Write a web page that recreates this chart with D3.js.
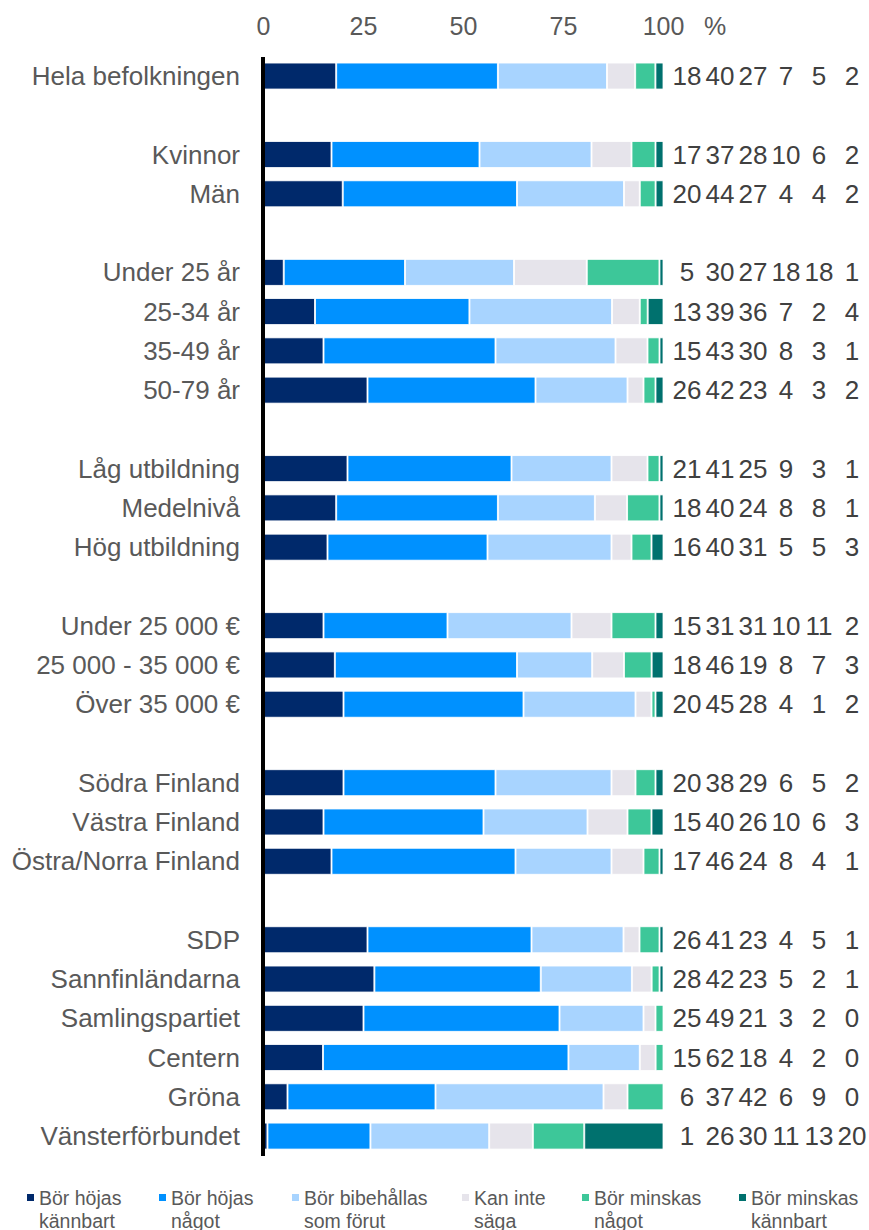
<!DOCTYPE html>
<html><head><meta charset="utf-8">
<script src="https://cdn.jsdelivr.net/npm/d3@7"></script>
<style>body{margin:0;background:#fff;font-family:"Liberation Sans",Arial,sans-serif;}</style>
</head><body><svg id="c" width="869" height="1230"></svg>
<script>
const categories = ["Hela befolkningen","","Kvinnor","Män","","Under 25 år","25-34 år","35-49 år","50-79 år","","Låg utbildning","Medelnivå","Hög utbildning","","Under 25 000 €","25 000 - 35 000 €","Över 35 000 €","","Södra Finland","Västra Finland","Östra/Norra Finland","","SDP","Sannfinländarna","Samlingspartiet","Centern","Gröna","Vänsterförbundet"];
const seriesNames = ["Bör höjas kännbart","Bör höjas något","Bör bibehållas som förut","Kan inte säga","Bör minskas något","Bör minskas kännbart"];
const legendLines = [["Bör höjas","kännbart"],["Bör höjas","något"],["Bör bibehållas","som förut"],["Kan inte","säga"],["Bör minskas","något"],["Bör minskas","kännbart"]];
const colors = ["#00296b","#0091ff","#a8d4ff","#e6e4eb","#3dc799","#00716e"];
const hojasKannbart   = [18,null,17,20,null,5,13,15,26,null,21,18,16,null,15,18,20,null,20,15,17,null,26,28,25,15,6,1];
const hojasNagot      = [40,null,37,44,null,30,39,43,42,null,41,40,40,null,31,46,45,null,38,40,46,null,41,42,49,62,37,26];
const bibehallas      = [27,null,28,27,null,27,36,30,23,null,25,24,31,null,31,19,28,null,29,26,24,null,23,23,21,18,42,30];
const kanInte         = [7,null,10,4,null,18,7,8,4,null,9,8,5,null,10,8,4,null,6,10,8,null,4,5,3,4,6,11];
const minskasNagot    = [5,null,6,4,null,18,2,3,3,null,3,8,5,null,11,7,1,null,5,6,4,null,5,2,2,2,9,13];
const minskasKannbart = [2,null,2,2,null,1,4,1,2,null,1,1,3,null,2,3,2,null,2,3,1,null,1,1,0,0,0,20];
const xTicks = [0,25,50,75,100];

const FONT = "Liberation Sans, Arial, sans-serif";
const series = [hojasKannbart,hojasNagot,bibehallas,kanInte,minskasNagot,minskasKannbart];
const rows = categories.map((c,i)=>{const o={id:i,cat:c};series.forEach((s,k)=>o["s"+k]=s[i]);return o;}).filter(r=>r.cat!=="");
const keys = series.map((s,k)=>"s"+k);

const svg = d3.select("#c").attr("font-family",FONT);
const x = d3.scaleLinear().domain([0,100]).range([263,663]);
const y = d3.scaleBand().domain(categories.map((c,i)=>i)).range([56.4,1155.7]).paddingInner(0.338).paddingOuter(0.169);

const stack = d3.stack().keys(keys).offset(d3.stackOffsetExpand);
const stacked = stack(rows);

const g = svg.append("g");
stacked.forEach((layer,k)=>{
  g.selectAll(null).data(layer).join("rect")
    .attr("x",d=>x(d[0]*100)+1)
    .attr("width",d=>Math.max(0,x(d[1]*100)-x(d[0]*100)-1))
    .attr("y",d=>y(d.data.id))
    .attr("height",y.bandwidth())
    .attr("fill",colors[k])
    .attr("stroke","#fff").attr("stroke-width",0.8);
});

// axis line
svg.append("line").attr("x1",x(0)).attr("x2",x(0)).attr("y1",57).attr("y2",1156)
  .attr("stroke","#000").attr("stroke-width",4);

// top ticks
const ax = d3.axisTop(x).tickValues(xTicks).tickSize(0).tickPadding(0);
const axg = svg.append("g").attr("transform","translate(0,35)").call(ax);
axg.select(".domain").remove();
axg.selectAll("text").attr("font-size",25).attr("fill","#595959").attr("font-family",FONT).attr("dy",0);
svg.append("text").attr("x",715).attr("y",35).attr("text-anchor","middle").attr("font-size",25).attr("fill","#595959").text("%");

// category labels
svg.selectAll(".cl").data(rows).join("text")
  .attr("x",240).attr("y",d=>y(d.id)+y.bandwidth()/2+9)
  .attr("text-anchor","end").attr("font-size",26).attr("fill","#595959").text(d=>d.cat);

// value labels
const colX = [687,720,753,786,819,852];
rows.forEach(r=>{
  keys.forEach((k,j)=>{
    svg.append("text").attr("x",colX[j]).attr("y",y(r.id)+y.bandwidth()/2+9)
      .attr("text-anchor","middle").attr("font-size",26).attr("fill","#404040").text(r[k]);
  });
});

// legend
const legX = [27,159,292,462,582,739];
legendLines.forEach((ln,i)=>{
  svg.append("rect").attr("x",legX[i]).attr("y",1194).attr("width",7).attr("height",7).attr("fill",colors[i]);
  const t = svg.append("text").attr("x",legX[i]+12).attr("y",1205).attr("font-size",19.5).attr("fill","#595959");
  t.append("tspan").attr("x",legX[i]+12).text(ln[0]);
  t.append("tspan").attr("x",legX[i]+12).attr("dy",22.5).text(ln[1]);
});
</script></body></html>
